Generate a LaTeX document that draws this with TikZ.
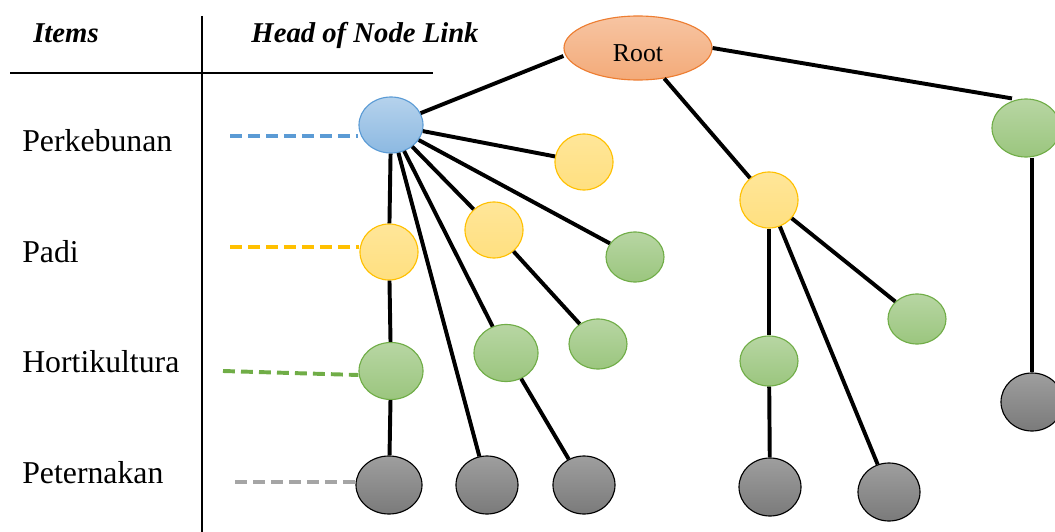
\documentclass[tikz,border=0pt]{standalone}
\usepackage{fontspec}
\setmainfont{Liberation Serif}
\usetikzlibrary{shapes,positioning}
\definecolor{rootline}{HTML}{ED7D31}
\definecolor{blueline}{HTML}{5B9BD5}
\definecolor{yellowline}{HTML}{FFC000}
\definecolor{greenline}{HTML}{70AD47}
\definecolor{grayline}{HTML}{A5A5A5}
\tikzstyle{plain} = [ellipse,inner sep=0,line width=0.8pt,minimum width=1.45cm,minimum height=1.4cm]
\tikzstyle{rootnode} = [plain,draw=rootline,top color=rootline!45!white,bottom color=rootline!65!white,minimum width=3.7cm,minimum height=1.6cm,font=\fontsize{18.3}{22}\selectfont,text height=18.5pt,text depth=0pt]
\tikzstyle{bluenode} = [plain,draw=blueline,top color=blueline!45!white,bottom color=blueline!70!white,minimum width=1.6cm]
\tikzstyle{yellownode} = [plain,draw=yellowline,top color=yellowline!40!white,bottom color=yellowline!50!white]
\tikzstyle{greennode} = [plain,draw=greenline,top color=greenline!50!white,bottom color=greenline!70!white]
\tikzstyle{graynode} = [plain,draw=black,top color=black!38,bottom color=black!52,minimum width=1.55cm,minimum height=1.45cm]
\tikzstyle{small} = [minimum height=1.25cm]
\tikzstyle{big} = [minimum width=1.6cm,minimum height=1.425cm]
\tikzstyle{link} = [-,line width=2.8pt,black]
\tikzstyle{leader} = [-,line width=2.8pt,dash pattern=on 8.5pt off 4.3pt]
\tikzstyle{rule} = [-,line width=1.6pt,black]
\tikzstyle{item} = [anchor=base west,inner sep=0,font=\fontsize{22.6}{27}\selectfont]
\tikzstyle{header} = [anchor=base,inner sep=0,font=\fontsize{20.4}{24}\selectfont\bfseries\itshape]

\begin{document}
\begin{tikzpicture}[x=0.025cm,y=-0.025cm]
  \useasboundingbox (0,0) rectangle (1055,532);
  % table
  \draw[rule] (10,73) -- (433,73);
  \draw[rule] (202,16) -- (202,532);
  \node[header] (items) at (66,43) {Items};
  \node[header] (headlink) at (365,43) {Head of Node Link};
  \node[item] (lperk) at (22,152) {Perkebunan};
  \node[item] (lpadi) at (22,262) {Padi};
  \node[item] (lhort) at (22,372) {Hortikultura};
  \node[item] (lpet) at (22,483) {Peternakan};
  % tree
  \node[rootnode] (root) at (638,48) {Root};
  \node[bluenode] (b1) at (391,125) {};
  \node[yellownode] (y1) at (389,252) {};
  \node[yellownode] (y2) at (494,230) {};
  \node[yellownode] (y3) at (584,162) {};
  \node[yellownode] (y4) at (769,200) {};
  \node[greennode,big] (g1) at (391,371) {};
  \node[greennode,big] (g2) at (506,353) {};
  \node[greennode,small] (g3) at (598,344) {};
  \node[greennode,small] (g4) at (635,257) {};
  \node[greennode,small] (g5) at (769,361) {};
  \node[greennode,small] (g6) at (917,319) {};
  \node[greennode,minimum width=1.7cm,minimum height=1.45cm] (g7) at (1026,128) {};
  \node[graynode,minimum width=1.65cm] (k1) at (389,485) {};
  \node[graynode] (k2) at (487,485) {};
  \node[graynode] (k3) at (584,485) {};
  \node[graynode] (k4) at (770,487) {};
  \node[graynode] (k5) at (889,492) {};
  \node[graynode] (k6) at (1032,402) {};
  \draw[link] ([yshift=-0.2cm]root.west) -- (b1);
  \draw[link] (root) -- (y4);
  \draw[link] (root.east) -- ([xshift=-0.35cm]g7.north);
  \draw[link] (b1) -- (y1);
  \draw[link] (b1) -- (k2);
  \draw[link] (b1) -- (g2);
  \draw[link] (b1) -- (y2);
  \draw[link] (b1) -- (g4);
  \draw[link] (b1) -- (y3);
  \draw[link] (y1) -- (g1);
  \draw[link] (g1) -- (k1);
  \draw[link] (y2) -- (g3);
  \draw[link] (g2) -- (k3);
  \draw[link] (y4) -- (g5);
  \draw[link] (g5) -- (k4);
  \draw[link] (y4) -- (k5);
  \draw[link] (y4) -- (g6);
  \draw[link] (k6 |- g7.south) -- (k6);
  % leaders
  \coordinate (dperk) at (230,136);
  \coordinate (dpadi) at (230,247);
  \coordinate (dhort) at (223,371);
  \coordinate (dpet) at (235,482);
  \draw[leader,blueline] (dperk) -- (dperk -| b1.west);
  \draw[leader,yellowline] (dpadi) -- (dpadi -| y1.west);
  \draw[leader,greenline] (dhort) -- ([yshift=-0.1cm]g1.west);
  \draw[leader,grayline] (dpet) -- (dpet -| k1.west);
\end{tikzpicture}
\end{document}
